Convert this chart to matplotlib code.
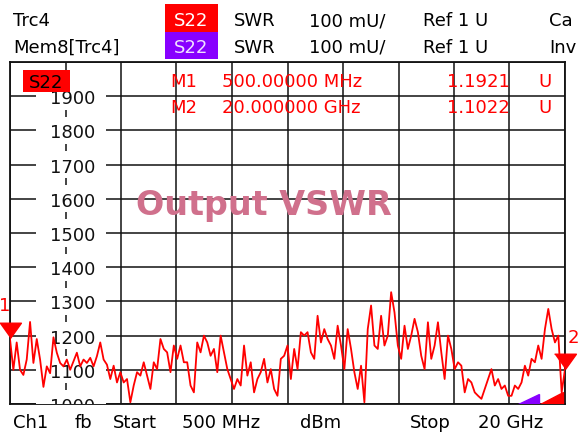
import numpy as np
import matplotlib.pyplot as plt
from matplotlib.patches import Rectangle, Polygon
from matplotlib.transforms import blended_transform_factory

W, H = 579, 435

# S22 SWR trace (mU), 0.5 GHz .. 20 GHz
swr = [1190, 1100, 1180, 1100, 1085, 1130, 1240, 1120, 1190, 1130,
       1050, 1110, 1090, 1195, 1150, 1120, 1110, 1130, 1100, 1125,
       1150, 1110, 1130, 1120, 1135, 1110, 1140, 1180, 1130, 1115,
       1073, 1112, 1063, 1093, 1063, 1073, 1005, 1054, 1093, 1083,
       1122, 1083, 1044, 1122, 1102, 1190, 1161, 1151, 1093, 1171,
       1132, 1171, 1122, 1122, 1054, 1034, 1180, 1151, 1200, 1180,
       1141, 1161, 1093, 1200, 1151, 1102, 1073, 1044, 1073, 1054,
       1171, 1083, 1122, 1034, 1073, 1093, 1132, 1063, 1102, 1044,
       1024, 1132, 1141, 1171, 1073, 1161, 1102, 1210, 1200, 1210,
       1151, 1132, 1258, 1180, 1219, 1190, 1171, 1132, 1229, 1171,
       1102, 1219, 1161, 1093, 1044, 1112, 1005, 1219, 1288, 1171,
       1161, 1258, 1171, 1200, 1327, 1268, 1171, 1132, 1229, 1161,
       1200, 1249, 1210, 1141, 1102, 1239, 1132, 1171, 1239, 1151,
       1073, 1200, 1161, 1102, 1122, 1112, 1034, 1073, 1063, 1034,
       1024, 1015, 1044, 1073, 1102, 1054, 1073, 1044, 1054, 1024,
       1024, 1054, 1044, 1063, 1112, 1083, 1132, 1122, 1171, 1132,
       1219, 1278, 1219, 1180, 1200, 1034, 1102]
f_start, f_stop = 0.5, 20.0
freq = np.linspace(f_start, f_stop, len(swr))

marker_f = [0.5, 20.0]
marker_v = [1192, 1102]
marker_names = ["1", "2"]

ytick_vals = [1000, 1100, 1200, 1300, 1400, 1500, 1600, 1700, 1800, 1900]
ytick_labels = [str(v) for v in ytick_vals]

RED = '#ff0000'
PURPLE = '#8800ff'
FS = 13

fig = plt.figure(figsize=(W / 100, H / 100), dpi=100)
fig.patch.set_facecolor('white')
ax = fig.add_axes([10 / W, 1 - 405 / H, 555 / W, 342 / H])


def ftext(x, y, s, **kw):
    kw.setdefault('fontsize', FS)
    kw.setdefault('va', 'baseline')
    return fig.text(x / W, 1 - y / H, s, **kw)


def fbox(x, y, w, h, color, z=1):
    fig.patches.append(Rectangle((x / W, 1 - (y + h) / H), w / W, h / H,
                                 transform=fig.transFigure, facecolor=color,
                                 edgecolor='none', zorder=z))


ax.set_xlim(f_start, f_stop)
ax.set_ylim(1000, 2000)
ax.set_xticks(np.linspace(f_start, f_stop, 11))
ax.set_yticks(np.arange(1000, 2001, 100))
ax.tick_params(length=0, labelbottom=False, labelleft=False)
ax.set_axisbelow(True)
ax.grid(True, color='#111111', linewidth=1.1)
for sp in ax.spines.values():
    sp.set_linewidth(1.3)
    sp.set_color('#111111')
    sp.set_zorder(1)

# y labels drawn inside the grid, on white boxes
tr = blended_transform_factory(ax.transAxes, ax.transData)
for v, lab in zip(ytick_vals, ytick_labels):
    ax.add_patch(Rectangle((0.047, v - 40), 0.126, 80, transform=tr,
                           facecolor='white', edgecolor='none', zorder=2.4))
    ax.text(0.1135, v, lab, transform=tr, ha='center', va='center_baseline',
            fontsize=FS, color='#111111', zorder=2.5, clip_on=True)

# trace
ax.plot(freq, swr, color=RED, linewidth=1.3, zorder=3)

# marker triangles, tip on the point
tri = [(-1, 1.4), (1, 1.4), (0, 0)]
ax.plot(marker_f, marker_v, linestyle='none', marker=tri, markersize=22,
        color=RED, zorder=4, clip_on=False)
ax.text(marker_f[0], 1290, marker_names[0], color=RED, fontsize=FS,
        ha='right', va='center', zorder=4, clip_on=False)
ax.text(f_stop + 0.1, 1195, marker_names[1], color=RED, fontsize=FS,
        ha='left', va='center', zorder=4, clip_on=False)

# out-of-range ramps bottom right
ax.add_patch(Polygon([(0.915, 0), (0.953, 0), (0.953, 0.029)],
                     transform=ax.transAxes, color=PURPLE, zorder=4))
ax.add_patch(Polygon([(0.955, 0), (0.996, 0), (0.996, 0.036)],
                     transform=ax.transAxes, color=RED, zorder=4))

# trace label box in the diagram
fbox(23, 71, 47, 22, RED, z=5)
ftext(46, 88, "S22", ha='center', color='black', zorder=6)

# marker table
for y, name, fs, val in [(87, "M1", "500.00000 MHz", "1.1921"),
                         (113, "M2", "20.000000 GHz", "1.1022")]:
    ftext(170, y, name, color=RED)
    ftext(222, y, fs, color=RED)
    ftext(510, y, val, color=RED, ha='right')
    ftext(538, y, "U", color=RED)

ftext(264, 215, "Output VSWR", fontsize=24, fontweight='bold',
      color='#d0708c', ha='center')

# header
fbox(165, 5, 53, 28, RED)
fbox(165, 33, 53, 27, PURPLE)
for y, left, bg_txt, right in [(26, "Trc4", 'white', "Ca"),
                               (53, "Mem8[Trc4]", '#f0e0ff', "Inv")]:
    ftext(13, y, left)
    ftext(191, y, "S22", ha='center', color=bg_txt)
    ftext(234, y, "SWR")
    ftext(309, y, "100 mU/")
    ftext(423, y, "Ref 1 U")
    ftext(549, y, right)

# footer
ftext(13, 428, "Ch1")
ftext(75, 428, "fb")
ftext(113, 428, "Start")
ftext(182, 428, "500 MHz")
ftext(300, 428, "dBm")
ftext(410, 428, "Stop")
ftext(478, 428, "20 GHz")

fig.savefig("out.png", dpi=100, facecolor='white')
